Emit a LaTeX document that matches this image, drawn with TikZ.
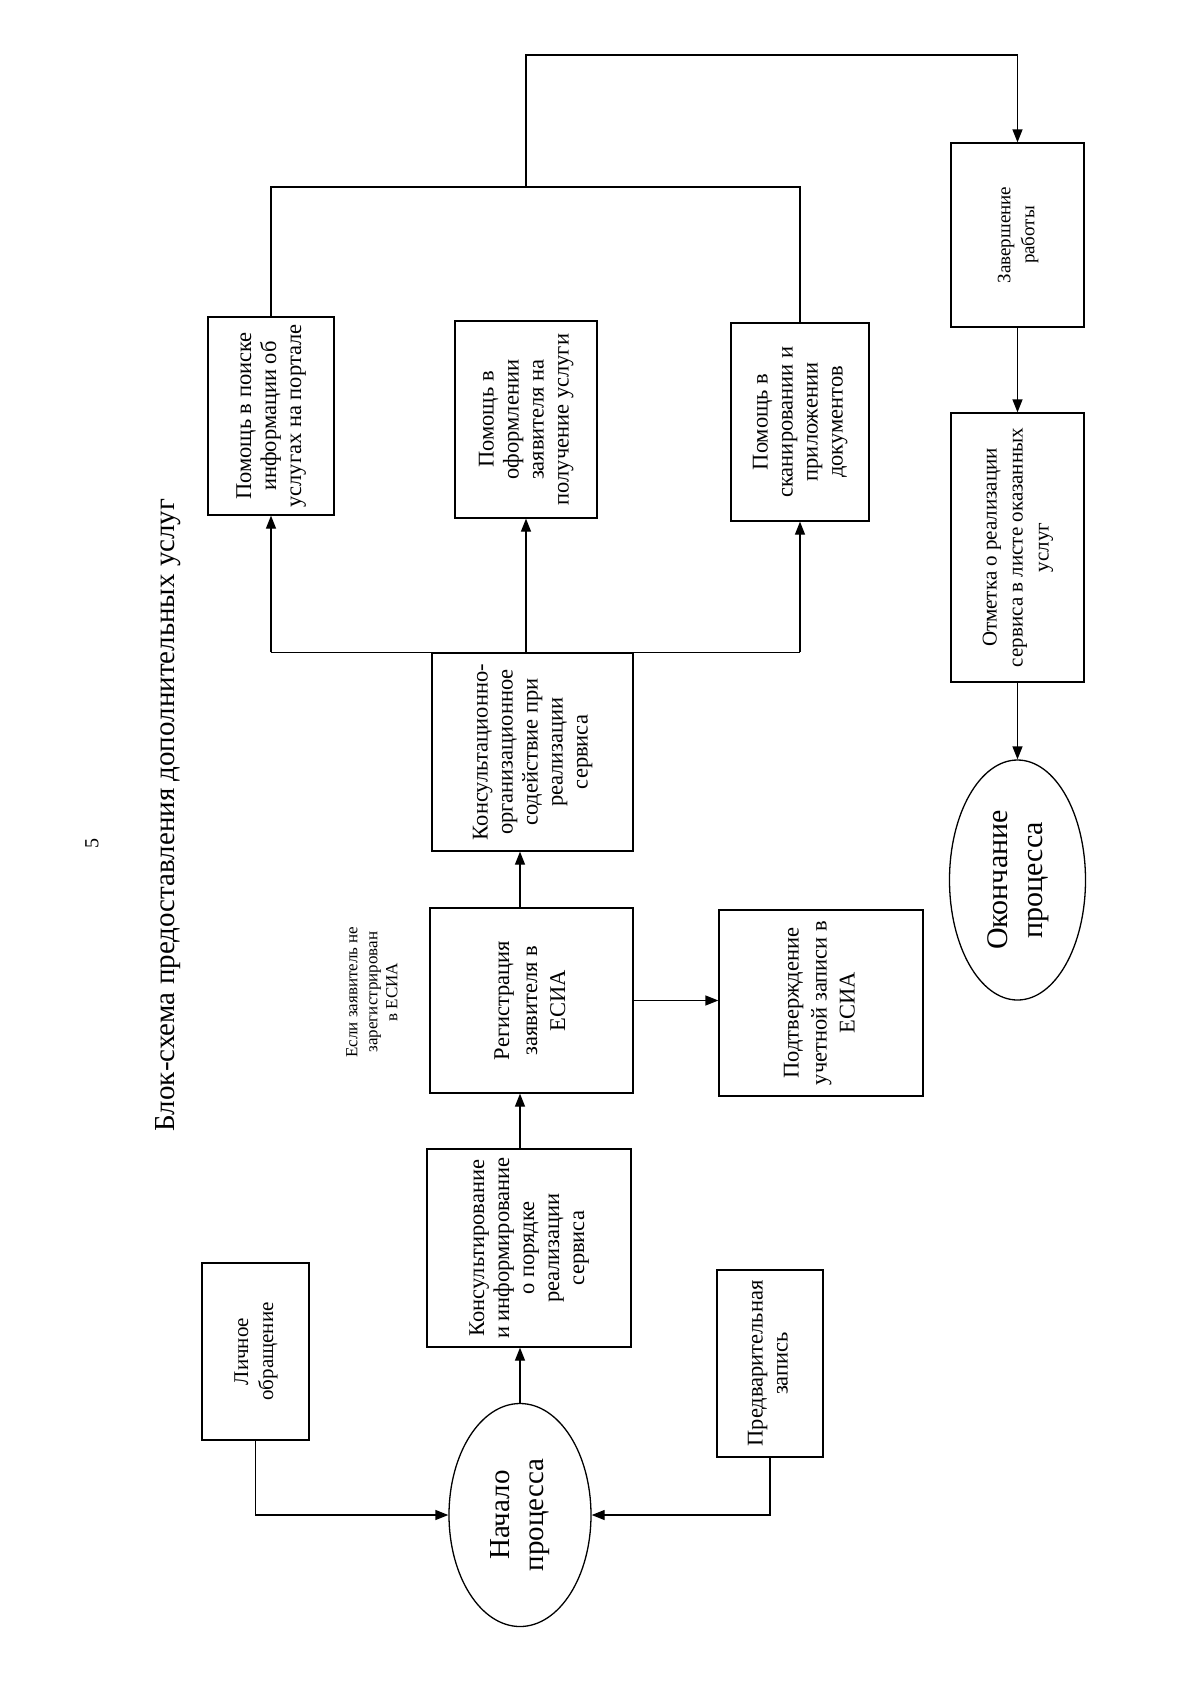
\documentclass[tikz,border=0pt]{standalone}
\usepackage{fontspec}
\setmainfont{Liberation Serif}
\usetikzlibrary{shapes.geometric,arrows.meta}
\newcommand{\vt}[1]{\rotatebox{90}{\begin{tabular}{@{}c@{}}#1\end{tabular}}}
\begin{document}
\begin{tikzpicture}[x=1pt,y=-1pt,
  box/.style={draw,line width=1.3pt,rectangle,inner sep=0pt,font=\fontsize{22.5}{25}\selectfont},
  oval/.style={draw,line width=1.3pt,ellipse,inner sep=0pt,font=\fontsize{29}{34}\selectfont},
  arr/.style={line width=1.3pt,-{Triangle[length=13pt,width=10pt]}},
  ln/.style={line width=1.3pt}]
\useasboundingbox (0,0) rectangle (1200,1706);

\node[rotate=90,font=\fontsize{20}{24}\selectfont] (pg) at (92,843) {5};
\node[rotate=90,font=\fontsize{29}{34}\selectfont] (title) at (168,815) {Блок-схема предоставления дополнительных услуг};

\node[box,minimum width=107pt,minimum height=177pt,font=\fontsize{21}{25}\selectfont] (lich) at (255.5,1351.5) {\vt{Личное\\обращение}};
\node[oval,minimum width=142pt,minimum height=223pt] (start) at (520,1515) {\vt{Начало\\процесса}};
\node[box,minimum width=106pt,minimum height=187pt] (pred) at (770,1363.5) {\vt{Предварительная\\запись}};
\node[box,minimum width=204pt,minimum height=198pt] (kons) at (529,1248) {\vt{Консультирование\\и информирование\\о порядке\\реализации\\сервиса}};
\node[box,minimum width=203pt,minimum height=185pt,font=\fontsize{22.5}{28}\selectfont] (reg) at (531.5,1000.5) {\vt{Регистрация\\заявителя в\\ЕСИА}};
\node[box,minimum width=204pt,minimum height=186pt,font=\fontsize{22.5}{28}\selectfont] (podt) at (821,1003) {\vt{Подтверждение\\учетной записи в\\ЕСИА}};
\node[rotate=90,align=center,font=\fontsize{17}{20}\selectfont] (esli) at (372,992) {Если заявитель не\\зарегистрирован\\в ЕСИА};
\node[box,minimum width=201pt,minimum height=198pt] (korg) at (532.5,752) {\vt{Консультационно-\\организационное\\содействие при\\реализации\\сервиса}};
\node[box,minimum width=126pt,minimum height=198pt] (poisk) at (271,416) {\vt{Помощь в поиске\\информации об\\услугах на портале}};
\node[box,minimum width=142pt,minimum height=197pt] (oform) at (526,419.5) {\vt{Помощь в\\оформлении\\заявителя на\\получение услуги}};
\node[box,minimum width=138pt,minimum height=198pt] (skan) at (800,422) {\vt{Помощь в\\сканировании и\\приложении\\документов}};
\node[box,minimum width=133pt,minimum height=184pt,font=\fontsize{19}{24}\selectfont] (zav) at (1017.5,235) {\vt{Завершение\\работы}};
\node[box,minimum width=133pt,minimum height=269pt,font=\fontsize{21}{26}\selectfont] (otm) at (1017.5,547.5) {\vt{Отметка о реализации\\сервиса в листе оказанных\\услуг}};
\node[oval,minimum width=136pt,minimum height=240pt,font=\fontsize{30}{35}\selectfont] (fin) at (1017.5,880) {\vt{Окончание\\процесса}};

\coordinate (j1) at (526,187);
\coordinate (j2) at (526,55);

\draw[arr] (lich.south) |- (start.west);
\draw[arr] (pred.south) |- (start.east);
\draw[arr] (start.north) -- (start.north |- kons.south);
\draw[arr] (start.north |- kons.north) -- (start.north |- reg.south);
\draw[arr] (reg.east) -- (reg.east -| podt.west);
\draw[arr] (start.north |- reg.north) -- (start.north |- korg.south);
\draw[ln] (poisk.south |- korg.north) -- (skan.south |- korg.north);
\draw[arr] (poisk.south |- korg.north) -- (poisk.south);
\draw[arr] (oform.south |- korg.north) -- (oform.south);
\draw[arr] (skan.south |- korg.north) -- (skan.south);
\draw[ln] (poisk.north) |- (j1) -| (skan.north);
\draw[arr] (j1) -- (j2) -| (zav.north);
\draw[arr] (zav.south) -- (otm.north);
\draw[arr] (otm.south) -- (fin.north);
\end{tikzpicture}
\end{document}
